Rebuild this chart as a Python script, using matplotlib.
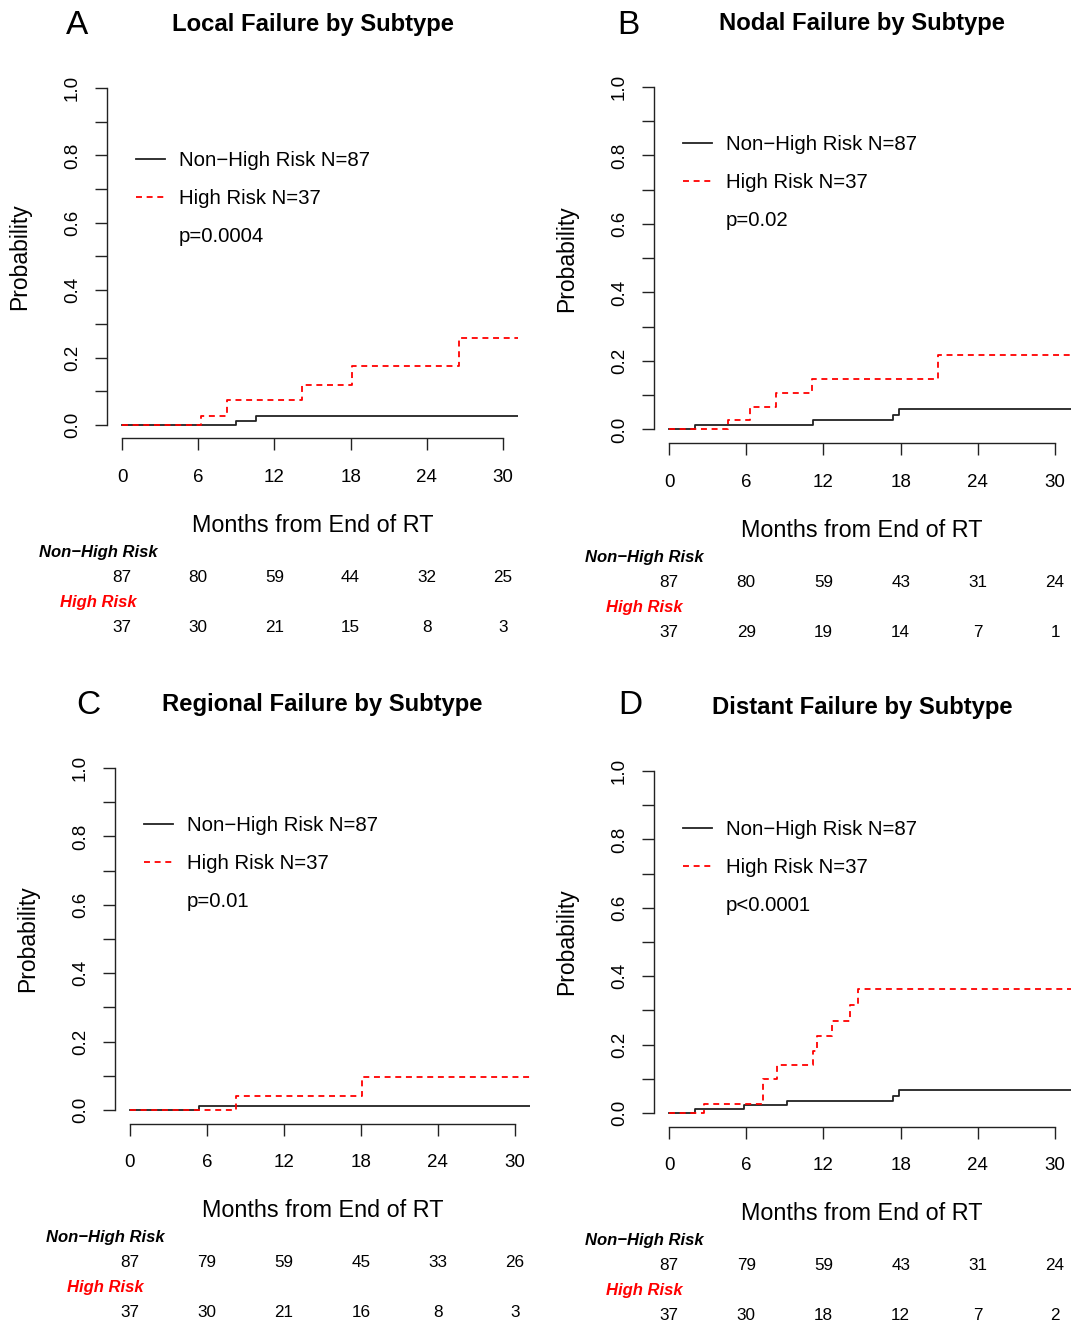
import matplotlib
matplotlib.use('Agg')
import matplotlib.pyplot as plt
from matplotlib.lines import Line2D
from matplotlib.ticker import FormatStrFormatter

plt.rcParams['font.family'] = ['Liberation Sans', 'DejaVu Sans']

# 패널 텍스트
letters = ['A', 'B', 'C', 'D']
titles = ['Local Failure by Subtype', 'Nodal Failure by Subtype',
          'Regional Failure by Subtype', 'Distant Failure by Subtype']
p_values = ['p=0.0004', 'p=0.02', 'p=0.01', 'p<0.0001']
legend_labels = ['Non−High Risk N=87', 'High Risk N=37']
risk_names = ['Non−High Risk', 'High Risk']

# 누적 발생률 (months, probability) - 마지막 값은 추적 종료까지 유지
a_nh_t = [0, 9.0, 10.55, 31.5]
a_nh_p = [0, 0.012, 0.026, 0.026]
a_hr_t = [0, 6.2, 8.3, 14.2, 18.1, 26.5, 31.5]
a_hr_p = [0, 0.027, 0.073, 0.12, 0.176, 0.259, 0.259]

b_nh_t = [0, 2.0, 11.2, 17.4, 17.9, 31.5]
b_nh_p = [0, 0.012, 0.027, 0.041, 0.06, 0.06]
b_hr_t = [0, 4.6, 6.3, 8.3, 11.1, 20.9, 31.5]
b_hr_p = [0, 0.029, 0.065, 0.107, 0.148, 0.218, 0.218]

c_nh_t = [0, 5.4, 31.5]
c_nh_p = [0, 0.012, 0.012]
c_hr_t = [0, 8.3, 18.1, 31.5]
c_hr_p = [0, 0.042, 0.096, 0.096]

d_nh_t = [0, 2.0, 5.8, 9.2, 17.4, 17.9, 31.5]
d_nh_p = [0, 0.011, 0.023, 0.035, 0.051, 0.068, 0.068]
d_hr_t = [0, 2.7, 7.3, 8.4, 11.2, 11.5, 12.7, 14.1, 14.7, 31.5]
d_hr_p = [0, 0.025, 0.099, 0.139, 0.182, 0.224, 0.268, 0.317, 0.364, 0.364]

# number at risk
risk_times = [0, 6, 12, 18, 24, 30]
a_nh_risk = [87, 80, 59, 44, 32, 25]
a_hr_risk = [37, 30, 21, 15, 8, 3]
b_nh_risk = [87, 80, 59, 43, 31, 24]
b_hr_risk = [37, 29, 19, 14, 7, 1]
c_nh_risk = [87, 79, 59, 45, 33, 26]
c_hr_risk = [37, 30, 21, 16, 8, 3]
d_nh_risk = [87, 79, 59, 43, 31, 24]
d_hr_risk = [37, 30, 18, 12, 7, 2]

curves = [(a_nh_t, a_nh_p, a_hr_t, a_hr_p), (b_nh_t, b_nh_p, b_hr_t, b_hr_p),
          (c_nh_t, c_nh_p, c_hr_t, c_hr_p), (d_nh_t, d_nh_p, d_hr_t, d_hr_p)]
risks = [(a_nh_risk, a_hr_risk), (b_nh_risk, b_hr_risk),
         (c_nh_risk, c_hr_risk), (d_nh_risk, d_hr_risk)]

# 레이아웃 (픽셀): left, top, right, bottom
W, H = 1077, 1326
boxes = [(106.8, 74.5, 518.2, 438.5), (653.6, 73.3, 1070.5, 443.2),
         (114.6, 754.3, 530.3, 1123.7), (653.6, 757.3, 1070.5, 1126.7)]
letter_pos = [(77, 25), (628, 25), (88, 706), (630, 706)]
legend_pos = [(136, 158), (683, 142), (144, 823), (683, 827)]

red_dash = (3.3, 2.6)

fig = plt.figure(figsize=(W / 100, H / 100), dpi=100)

for i in range(4):
    l, t, r, b = boxes[i]
    ax = fig.add_axes([l / W, 1 - b / H, (r - l) / W, (b - t) / H])
    ax.set_xlim(-1.2, 31.2)
    ax.set_ylim(-0.04, 1.04)
    for s in ['top', 'right']:
        ax.spines[s].set_visible(False)
    ax.spines['left'].set_bounds(0, 1)
    ax.spines['bottom'].set_bounds(0, 30)
    for s in ['left', 'bottom']:
        ax.spines[s].set_linewidth(1.0)
        ax.spines[s].set_color('#222222')

    ax.set_xticks(risk_times)
    ax.set_yticks([0, 0.2, 0.4, 0.6, 0.8, 1.0])
    ax.set_yticks([0.1, 0.3, 0.5, 0.7, 0.9], minor=True)
    ax.yaxis.set_major_formatter(FormatStrFormatter('%.1f'))
    ax.tick_params(which='both', length=8.6, width=1.0, color='#222222')
    ax.tick_params(axis='x', labelsize=13.5, pad=13.4)
    ax.tick_params(axis='y', labelsize=13.5, pad=10, labelrotation=90)
    for lab in ax.get_yticklabels():
        lab.set_va('center')

    nh_t, nh_p, hr_t, hr_p = curves[i]
    ax.step(nh_t, nh_p, where='post', color='#222222', lw=1.3)
    ax.step(hr_t, hr_p, where='post', color='red', lw=1.3, dashes=red_dash)

    ax.set_ylabel('Probability', fontsize=16.5, va='center')
    ax.yaxis.set_label_coords(-87 / (r - l), 0.5)
    ax.set_xlabel('Months from End of RT', fontsize=16.8, va='center')
    ax.xaxis.set_label_coords(0.5, -87 / (b - t))

    ax.annotate(titles[i], xy=(0.5, 1), xycoords='axes fraction', xytext=(0, 50),
                textcoords='offset pixels', ha='center', va='center',
                fontsize=17.2, fontweight='bold')
    fig.text(letter_pos[i][0] / W, 1 - letter_pos[i][1] / H, letters[i],
             fontsize=24, ha='center', va='center')

    # 범례
    lx, ly = legend_pos[i]
    h1 = Line2D([], [], color='#222222', lw=1.3)
    h2 = Line2D([], [], color='red', lw=1.3, dashes=red_dash)
    h3 = Line2D([], [], color='none')
    ax.legend([h1, h2, h3], legend_labels + [p_values[i]], loc='upper left',
              bbox_to_anchor=((lx - l) / (r - l), (b - (ly - 7)) / (b - t)),
              frameon=False, fontsize=14.7, handlelength=1.42, handletextpad=0.68,
              labelspacing=0.93, borderpad=0, borderaxespad=0)

    # number at risk 표
    nh_risk, hr_risk = risks[i]
    xf = ax.get_xaxis_transform()
    ax.annotate(risk_names[0], xy=(-1.9, 0), xycoords=xf, xytext=(0, -114),
                textcoords='offset pixels', ha='center', va='center',
                fontsize=12, fontweight='bold', fontstyle='italic', color='black',
                annotation_clip=False)
    ax.annotate(risk_names[1], xy=(-1.9, 0), xycoords=xf, xytext=(0, -164),
                textcoords='offset pixels', ha='center', va='center',
                fontsize=12, fontweight='bold', fontstyle='italic', color='red',
                annotation_clip=False)
    for tx, n1, n2 in zip(risk_times, nh_risk, hr_risk):
        ax.annotate(str(n1), xy=(tx, 0), xycoords=xf, xytext=(0, -139),
                    textcoords='offset pixels', ha='center', va='center',
                    fontsize=12.3, annotation_clip=False)
        ax.annotate(str(n2), xy=(tx, 0), xycoords=xf, xytext=(0, -189),
                    textcoords='offset pixels', ha='center', va='center',
                    fontsize=12.3, annotation_clip=False)

fig.savefig('out.png', dpi=100)
